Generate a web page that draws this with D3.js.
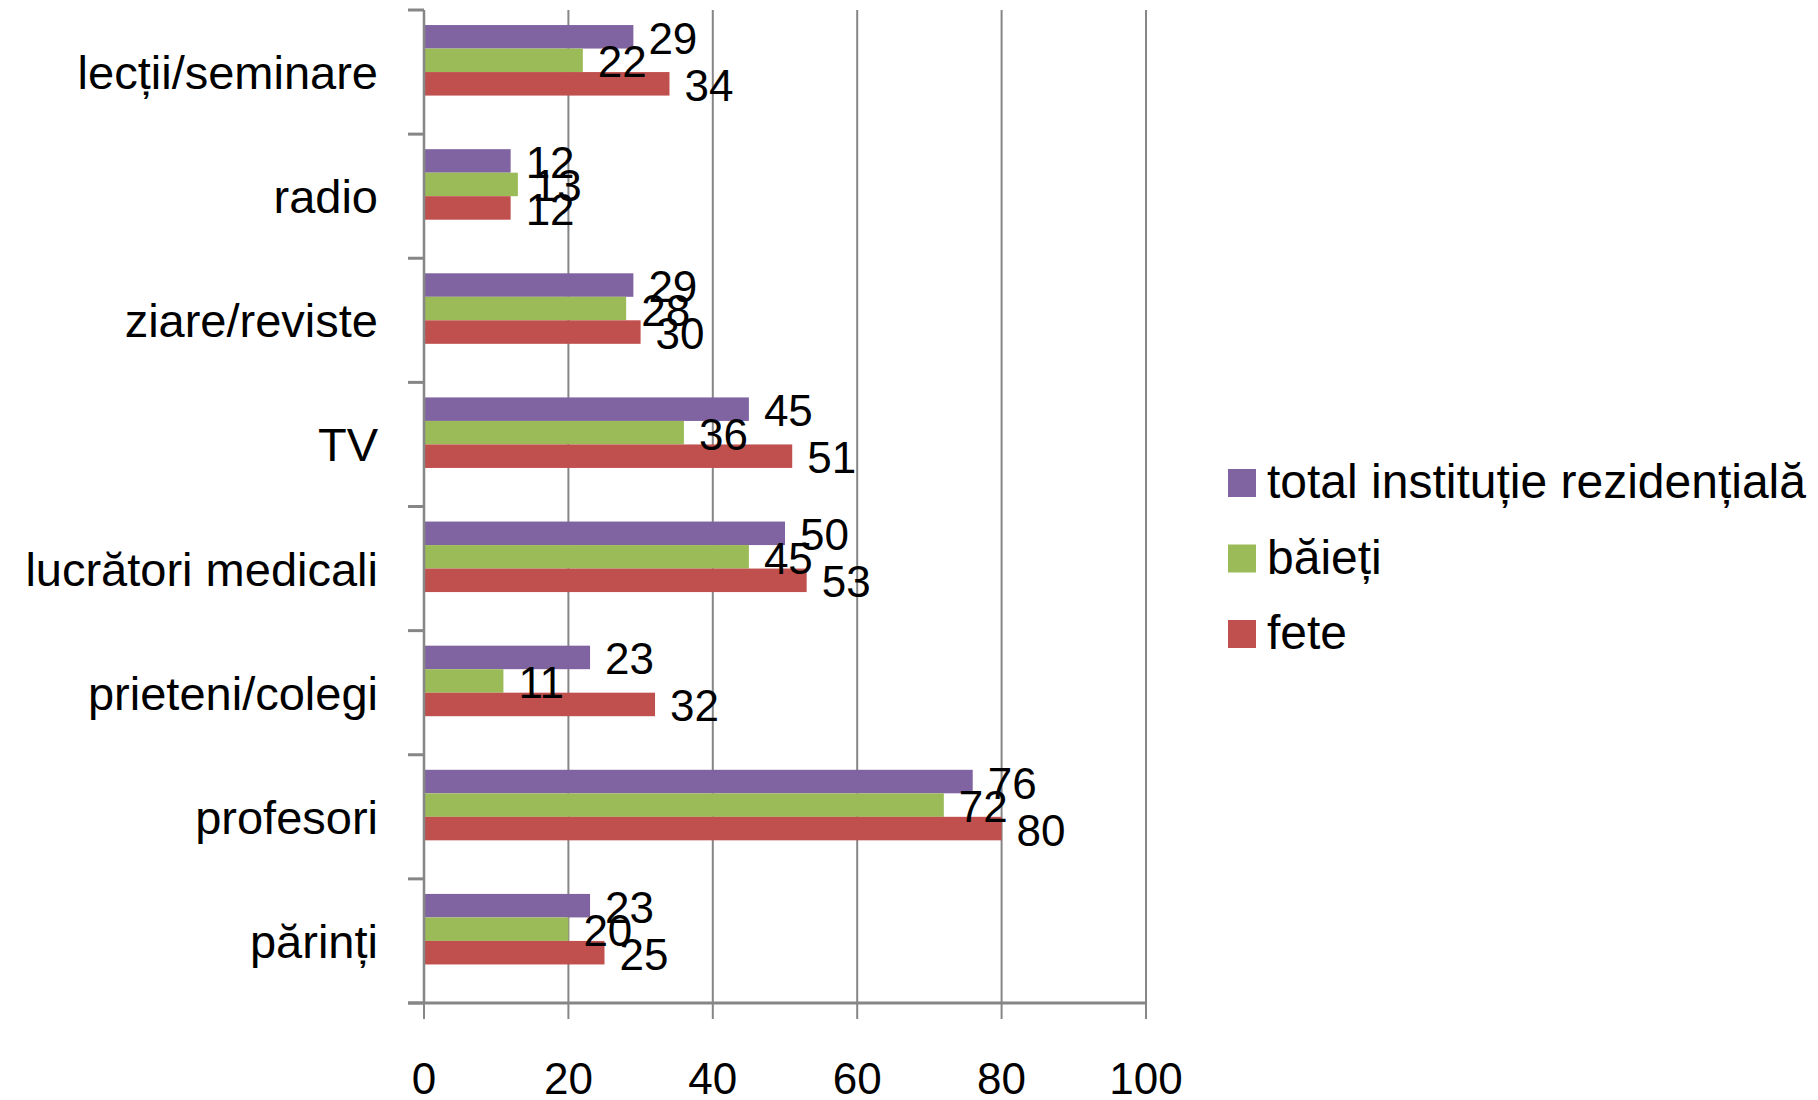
<!DOCTYPE html>
<html>
<head>
<meta charset="utf-8">
<script src="https://cdn.jsdelivr.net/npm/d3@7"></script>
<style>
  html, body { margin: 0; padding: 0; background: #ffffff; }
  svg { display: block; }
  text { font-family: "Liberation Sans", Arial, sans-serif; fill: #000; }
</style>
</head>
<body>
<script>
const categories = ["lecții/seminare", "radio", "ziare/reviste", "TV", "lucrători medicali", "prieteni/colegi", "profesori", "părinți"];
const seriesNames = ["total instituție rezidențială", "băieți", "fete"];
const totalValues = [29, 12, 29, 45, 50, 23, 76, 23];
const baietiValues = [22, 13, 28, 36, 45, 11, 72, 20];
const feteValues = [34, 12, 30, 51, 53, 32, 80, 25];
const seriesColors = ["#8064A2", "#9BBB59", "#C0504D"];
const xTicks = [0, 20, 40, 60, 80, 100];

const seriesValues = [totalValues, baietiValues, feteValues];

const W = 1818, H = 1100;
const plot = { left: 424, right: 1146, top: 10, bottom: 1003 };

const svg = d3.select("body").append("svg").attr("width", W).attr("height", H);
svg.append("rect").attr("width", W).attr("height", H).attr("fill", "#fff");

const x = d3.scaleLinear().domain([0, 100]).range([plot.left, plot.right]);
const y = d3.scaleBand().domain(categories).range([plot.top, plot.bottom]).padding(0);
// four slots per category (Excel-style layout with an empty fourth slot)
const inner = d3.scaleBand().domain([0, 1, 2, 3]).range([0, y.bandwidth()]).paddingInner(0).paddingOuter(0.64);

const gridColor = "#868686";

// vertical gridlines
svg.append("g").selectAll("line").data(xTicks.filter(d => d > 0)).join("line")
  .attr("x1", d => x(d)).attr("x2", d => x(d))
  .attr("y1", plot.top).attr("y2", plot.bottom)
  .attr("stroke", gridColor).attr("stroke-width", 2);

// bars
seriesValues.forEach((vals, si) => {
  svg.append("g").selectAll("rect").data(categories).join("rect")
    .attr("x", x(0))
    .attr("y", (c) => y(c) + inner(si))
    .attr("width", (c, i) => x(vals[i]) - x(0))
    .attr("height", inner.bandwidth())
    .attr("fill", seriesColors[si]);
});

// y axis line and category ticks
svg.append("line")
  .attr("x1", plot.left).attr("x2", plot.left)
  .attr("y1", plot.top).attr("y2", plot.bottom)
  .attr("stroke", gridColor).attr("stroke-width", 2.5);
const boundaries = categories.map(c => y(c)).concat([plot.bottom]);
svg.append("g").selectAll("line").data(boundaries).join("line")
  .attr("x1", plot.left - 16).attr("x2", plot.left)
  .attr("y1", d => d).attr("y2", d => d)
  .attr("stroke", gridColor).attr("stroke-width", 3);

// x axis line and ticks
svg.append("line")
  .attr("x1", plot.left - 16).attr("x2", plot.right)
  .attr("y1", plot.bottom).attr("y2", plot.bottom)
  .attr("stroke", gridColor).attr("stroke-width", 3);
svg.append("g").selectAll("line").data(xTicks).join("line")
  .attr("x1", d => x(d)).attr("x2", d => x(d))
  .attr("y1", plot.bottom).attr("y2", plot.bottom + 16)
  .attr("stroke", gridColor).attr("stroke-width", 2);

// x tick labels
svg.append("g").selectAll("text").data(xTicks).join("text")
  .attr("x", d => x(d)).attr("y", 1094)
  .attr("text-anchor", "middle")
  .style("font-size", "44px")
  .text(d => d);

// category labels
svg.append("g").selectAll("text").data(categories).join("text")
  .attr("x", 378)
  .attr("y", c => y(c) + y.bandwidth() / 2 + 17)
  .attr("text-anchor", "end")
  .style("font-size", "47px")
  .text(c => c);

// data labels
seriesValues.forEach((vals, si) => {
  svg.append("g").selectAll("text").data(categories).join("text")
    .attr("x", (c, i) => x(vals[i]) + 15)
    .attr("y", c => y(c) + inner(si) + inner.bandwidth() / 2 + 17)
    .style("font-size", "44px")
    .text((c, i) => vals[i]);
});

// legend
const legendRows = [482, 557.5, 633];
const lg = svg.append("g");
seriesNames.forEach((name, si) => {
  lg.append("rect")
    .attr("x", 1228).attr("y", legendRows[si] - 13)
    .attr("width", 28).attr("height", 28)
    .attr("fill", seriesColors[si]);
  lg.append("text")
    .attr("x", 1267).attr("y", legendRows[si] + 16)
    .style("font-size", "48px")
    .text(name);
});
</script>
</body>
</html>
